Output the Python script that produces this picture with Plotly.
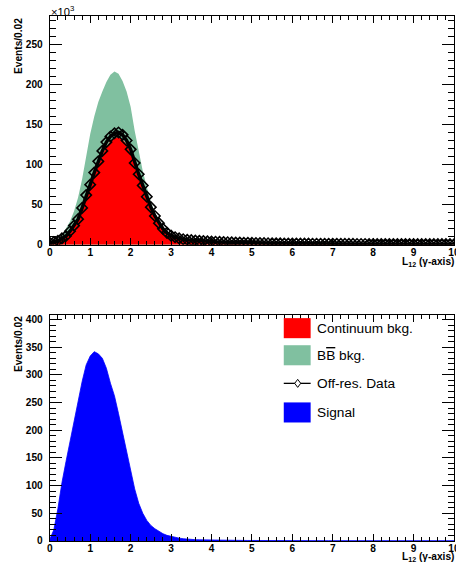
import numpy as np
import plotly.graph_objects as go

W, H = 456, 564          # reference picture size; layout positions are given in these pixels
S = 1.0 / 0.985          # the page is shown slightly reduced, so the figure is drawn a bit larger
FW, FH = round(W * S), round(H * S)

# bin centres 0.0 ... 10.0 (step 0.1) (thousands of events)
continuum_k = [2, 3, 4.5, 7, 10, 15.5, 22, 30, 43, 58,
               71, 85, 99, 112, 122, 129, 133, 134, 131, 125,
               114, 98, 84, 70, 57, 44, 34, 25, 18.5, 14,
               10.5, 8.7, 7.3, 6.4, 5.7, 5.2, 4.8, 4.5, 4.2, 4.0,
               3.7, 3.5, 3.3, 3.1, 3.0, 2.8, 2.6, 2.5, 2.4, 2.3,
               2.2, 2.1, 2.0, 1.9, 1.8, 1.7, 1.65, 1.6, 1.55, 1.5,
               1.45, 1.4, 1.4, 1.35, 1.3, 1.3, 1.25, 1.2, 1.2, 1.15,
               1.1, 1.1, 1.1, 1.05, 1.05, 1.0, 1.0, 1.0, 0.95, 0.95,
               0.95, 0.9, 0.9, 0.9, 0.9, 0.85, 0.85, 0.85, 0.85, 0.8,
               0.8, 0.8, 0.8, 0.8, 0.75, 0.75, 0.75, 0.75, 0.75, 0.7, 0.7]

bbbar_k = [2, 4, 6, 12, 20, 29, 42, 59, 82, 111,
           138, 160, 178, 191, 203, 212, 216, 213, 204, 191,
           172, 142, 116, 92, 72, 54, 40, 30, 22, 15,
           11, 8, 6, 5, 4.5, 4.0, 3.8, 3.6, 3.4, 3.2,
           3.0, 2.9, 2.8, 2.6, 2.5, 2.4, 2.3, 2.2, 2.1, 2.0,
           1.9, 1.8, 1.75, 1.7, 1.65, 1.6, 1.55, 1.5, 1.45, 1.4,
           1.4, 1.35, 1.3, 1.3, 1.25, 1.2, 1.2, 1.15, 1.15, 1.1,
           1.1, 1.05, 1.05, 1.0, 1.0, 1.0, 0.95, 0.95, 0.95, 0.9,
           0.9, 0.9, 0.9, 0.85, 0.85, 0.85, 0.85, 0.8, 0.8, 0.8,
           0.8, 0.8, 0.75, 0.75, 0.75, 0.75, 0.75, 0.7, 0.7, 0.7, 0.7]

offres_k = [2.5, 3.5, 5, 8, 11, 17, 24, 32, 46, 62,
            75, 90, 104, 117, 128, 135, 139, 140, 137, 130,
            119, 102, 88, 74, 60, 47, 36, 27, 20, 15,
            11.5, 9.5, 8, 7, 6.3, 5.8, 5.4, 5.0, 4.7, 4.4,
            4.1, 3.9, 3.7, 3.5, 3.3, 3.1, 2.9, 2.8, 2.6, 2.5,
            2.4, 2.3, 2.2, 2.1, 2.0, 1.9, 1.85, 1.8, 1.7, 1.65,
            1.6, 1.55, 1.5, 1.5, 1.45, 1.4, 1.4, 1.35, 1.3, 1.3,
            1.25, 1.25, 1.2, 1.2, 1.15, 1.15, 1.1, 1.1, 1.1, 1.05,
            1.05, 1.05, 1.0, 1.0, 1.0, 1.0, 0.95, 0.95, 0.95, 0.95,
            0.9, 0.9, 0.9, 0.9, 0.9, 0.85, 0.85, 0.85, 0.85, 0.85, 0.8]

signal = [3, 20, 58, 105, 143, 180, 220, 254, 288, 318,
          334, 342, 338, 330, 312, 285, 262, 230, 196, 158,
          128, 94, 68, 50, 37, 28, 22, 17, 13, 10,
          8, 6, 5, 4, 3, 2.5, 2.2, 2.0, 1.8, 1.6,
          1.4, 1.3, 1.2, 1.1, 1.0, 1.0, 0.9, 0.9, 0.8, 0.8,
          0.8, 0.7, 0.7, 0.7, 0.7, 0.6, 0.6, 0.6, 0.6, 0.6,
          0.6, 0.5, 0.5, 0.5, 0.5, 0.5, 0.5, 0.5, 0.5, 0.5,
          0.5, 0.5, 0.4, 0.4, 0.4, 0.4, 0.4, 0.4, 0.4, 0.4,
          0.4, 0.4, 0.4, 0.4, 0.4, 0.4, 0.4, 0.4, 0.4, 0.4,
          0.4, 0.4, 0.4, 0.4, 0.4, 0.4, 0.4, 0.4, 0.4, 0.4, 0.4]

x_ticks = list(range(0, 11))
legend_labels = ["Continuum bkg.", "B<span style='text-decoration:overline'>B</span> bkg.",
                 "Off-res. Data", "Signal"]

x = np.round(np.arange(len(signal)) * 0.1, 1)

RED = "#ff0000"
GREEN = "#80c0a0"
BLUE = "#0000ff"


def px(v):
    return v / W


def py(v):
    return 1 - v / H


def fs(v):
    return v * S


fig = go.Figure()
fig.add_trace(go.Scatter(x=x, y=bbbar_k, mode="lines", line=dict(width=0),
                         fill="tozeroy", fillcolor=GREEN, xaxis="x", yaxis="y", showlegend=False))
fig.add_trace(go.Scatter(x=x, y=continuum_k, mode="lines", line=dict(width=0),
                         fill="tozeroy", fillcolor=RED, xaxis="x", yaxis="y", showlegend=False))
fig.add_trace(go.Scatter(x=x, y=offres_k, mode="lines+markers",
                         line=dict(color="black", width=3.5),
                         marker=dict(symbol="diamond-open", size=8, color="black",
                                     line=dict(width=1.6, color="black")),
                         xaxis="x", yaxis="y", showlegend=False))
fig.add_trace(go.Scatter(x=x, y=signal, mode="lines", line=dict(width=0.8, color=BLUE),
                         fill="tozeroy", fillcolor=BLUE, xaxis="x2", yaxis="y2", showlegend=False))

tickfont = dict(family="Liberation Sans", size=fs(10), color="black", weight="bold")

xcommon = dict(range=[0, 10], tickvals=x_ticks, ticks="inside", mirror="ticks", showline=True,
               linecolor="black", linewidth=1, tickcolor="black", tickwidth=1, ticklen=fs(7),
               minor=dict(dtick=0.2, ticks="inside", ticklen=fs(4), tickcolor="black", tickwidth=1),
               showgrid=False, zeroline=False, tickfont=tickfont, ticklabeloverflow="allow",
               ticklabelstandoff=-2)
ycommon = dict(ticks="inside", mirror="ticks", showline=True, linecolor="black", linewidth=1,
               tickcolor="black", tickwidth=1, ticklen=fs(12), dtick=50,
               minor=dict(dtick=10, ticks="inside", ticklen=fs(6), tickcolor="black", tickwidth=1),
               showgrid=False, zeroline=False, tickfont=tickfont, ticklabelstandoff=4)

fig.update_layout(
    width=FW, height=FH, autosize=False, margin=dict(l=0, r=0, t=0, b=0),
    paper_bgcolor="white", plot_bgcolor="white", showlegend=False,
    xaxis=dict(domain=[px(47), px(453)], anchor="y", **xcommon),
    yaxis=dict(domain=[py(243), py(15)], anchor="x", range=[0, 285], **ycommon),
    xaxis2=dict(domain=[px(47), px(453)], anchor="y2", **xcommon),
    yaxis2=dict(domain=[py(538), py(313)], anchor="x2", range=[0, 408], **ycommon),
)

ann = []
titlefont = dict(family="Liberation Sans", size=fs(10), color="black", weight="bold")
ann.append(dict(text="Events/0.02", textangle=-90, x=px(15), y=py(15), xref="paper", yref="paper",
                xanchor="center", yanchor="top", showarrow=False, font=titlefont))
ann.append(dict(text="Events/0.02", textangle=-90, x=px(15), y=py(312), xref="paper", yref="paper",
                xanchor="center", yanchor="top", showarrow=False, font=titlefont))
ann.append(dict(text="L<sub>12</sub> (γ-axis)", x=px(455), y=py(261), xref="paper", yref="paper",
                xanchor="right", yanchor="middle", showarrow=False, font=titlefont))
ann.append(dict(text="L<sub>12</sub> (γ-axis)", x=px(455), y=py(555), xref="paper", yref="paper",
                xanchor="right", yanchor="middle", showarrow=False, font=titlefont))
ann.append(dict(text="×10<sup>3</sup>", x=px(46), y=py(10), xref="paper", yref="paper",
                xanchor="left", yanchor="middle", showarrow=False,
                font=dict(family="Liberation Sans", size=fs(11), color="black")))

# legend (drawn in the lower pad, as in the original)
shapes = []
leg_rows = [326, 353, 381, 410]
leg_colors = [RED, GREEN, None, BLUE]
for lab, yc, col in zip(legend_labels, leg_rows, leg_colors):
    if col is not None:
        shapes.append(dict(type="rect", xref="paper", yref="paper", x0=px(282), x1=px(309),
                           y0=py(yc + 10), y1=py(yc - 10), fillcolor=col, line=dict(width=0)))
    else:
        shapes.append(dict(type="line", xref="paper", yref="paper", x0=px(282), x1=px(309),
                           y0=py(yc), y1=py(yc), line=dict(color="black", width=1.3)))
        d = [(296, yc - 4), (299, yc), (296, yc + 4), (293, yc)]
        path = "M " + " L ".join(f"{px(a):.5f},{py(b):.5f}" for a, b in d) + " Z"
        shapes.append(dict(type="path", xref="paper", yref="paper", path=path,
                           fillcolor="white", line=dict(color="black", width=1)))
    ann.append(dict(text=lab, x=px(313), y=py(yc), xref="paper", yref="paper",
                    xanchor="left", yanchor="middle", showarrow=False,
                    font=dict(family="Liberation Sans", size=fs(13.5), color="black")))

fig.update_layout(annotations=ann, shapes=shapes)
fig.write_html("out.html")
